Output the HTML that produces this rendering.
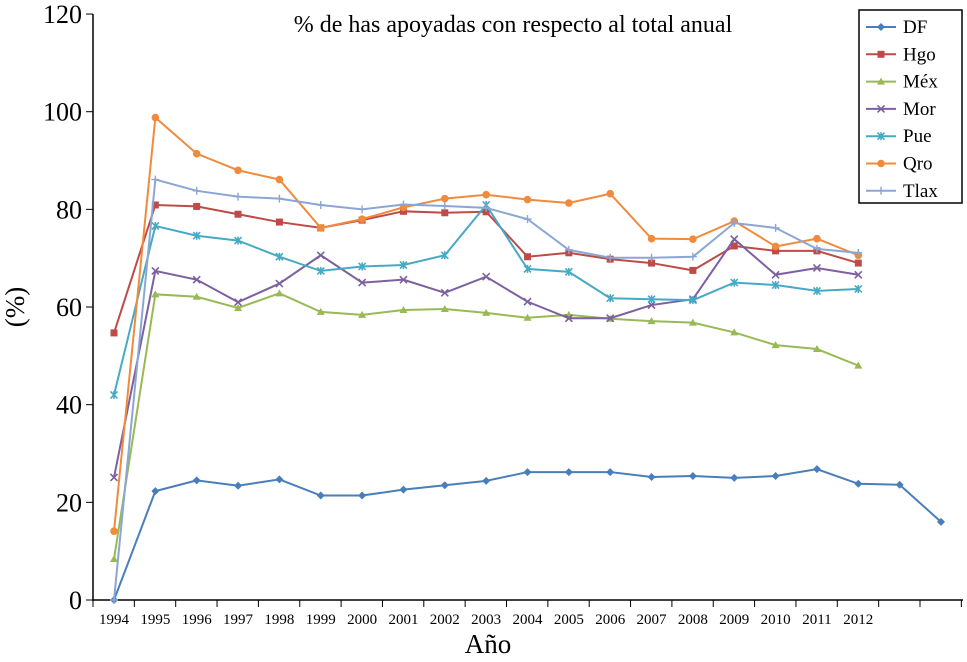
<!DOCTYPE html>
<html><head><meta charset="utf-8"><style>
body{margin:0;background:#fff}
svg text{font-family:"Liberation Serif",serif;fill:#000}
</style></head><body>
<svg width="967" height="657" id="c">
<text x="513" y="32" text-anchor="middle" font-size="24">% de has apoyadas con respecto al total anual</text>
<text x="488" y="653" text-anchor="middle" font-size="27">Año</text>
<text transform="translate(24,307) rotate(-90)" text-anchor="middle" font-size="27">(%)</text>
<g id="axes"></g><g id="series"></g><g id="legend"></g>
</svg>
<script>
const years=["1994","1995","1996","1997","1998","1999","2000","2001","2002","2003","2004","2005","2006","2007","2008","2009","2010","2011","2012"];
const yTicks=[0,20,40,60,80,100,120];
const seriesNames=["DF","Hgo","Méx","Mor","Pue","Qro","Tlax"];
const DF=[0,22.3,24.5,23.4,24.7,21.4,21.4,22.6,23.5,24.4,26.2,26.2,26.2,25.2,25.4,25,25.4,26.8,23.8,23.6,16];
const Hgo=[54.7,80.9,80.6,79,77.4,76.2,77.8,79.6,79.3,79.5,70.3,71.1,69.8,69,67.5,72.5,71.5,71.5,69];
const Mex=[8.4,62.6,62.1,59.8,62.8,59,58.4,59.4,59.6,58.8,57.8,58.4,57.6,57.1,56.8,54.8,52.2,51.4,48];
const Mor=[25.1,67.4,65.6,61,64.8,70.6,65,65.6,62.9,66.2,61.1,57.7,57.7,60.4,61.6,73.9,66.6,68,66.6];
const Pue=[42,76.6,74.6,73.6,70.3,67.4,68.3,68.6,70.6,80.9,67.8,67.2,61.8,61.6,61.4,65,64.5,63.3,63.7];
const Qro=[14.1,98.8,91.4,88,86.1,76.2,78,80.4,82.2,83,82,81.3,83.2,74,73.9,77.6,72.4,74,70.6];
const Tlax=[0,86.1,83.8,82.6,82.2,80.9,80,81,80.7,80.3,78,71.7,70.1,70.1,70.3,77.2,76.2,71.9,71.1];
const allSeries=[DF,Hgo,Mex,Mor,Pue,Qro,Tlax];
const colors=["#4a7ebb","#be4b48","#98b954","#7d60a0","#46aac5","#f08a3c","#8ba6d4"];
const markers=["diamond","square","triangle","x","star","circle","plus"];
const NS="http://www.w3.org/2000/svg";
const X0=114,DX=41.35,Y0=600,DY=4.883;
const xs=i=>X0+i*DX, ys=v=>Y0-v*DY;
function mk(t,a,p){const e=document.createElementNS(NS,t);for(const k in a)e.setAttribute(k,a[k]);p.appendChild(e);return e;}
const ax=document.getElementById('axes');
const yl=mk('line',{x1:93,y1:14,x2:93,y2:601,stroke:'#000','stroke-width':1.5},ax);

const xl=mk('line',{x1:93,y1:600,x2:963,y2:600,stroke:'#000','stroke-width':1.5},ax);

yTicks.forEach(v=>{mk('line',{x1:86,x2:93,y1:ys(v),y2:ys(v),stroke:'#000'},ax);
const t=mk('text',{x:82,y:ys(v)+9,'text-anchor':'end','font-size':26},ax);t.textContent=v;
});
for(let i=0;i<=21;i++){const x=93+i*DX;mk('line',{x1:x,x2:x,y1:600,y2:607,stroke:'#000'},ax);}
years.forEach((y,i)=>{const t=mk('text',{x:xs(i),y:624,'text-anchor':'middle','font-size':15},ax);t.textContent=y;
});
function marker(g,type,x,y,c){
 if(type=='diamond')mk('polygon',{points:`${x},${y-4} ${x+4},${y} ${x},${y+4} ${x-4},${y}`,fill:c},g);
 else if(type=='square')mk('rect',{x:x-3.5,y:y-3.5,width:7,height:7,fill:c},g);
 else if(type=='triangle')mk('polygon',{points:`${x},${y-4} ${x+4},${y+3} ${x-4},${y+3}`,fill:c},g);
 else if(type=='circle')mk('circle',{cx:x,cy:y,r:3.8,fill:c},g);
 else if(type=='x'){mk('path',{d:`M${x-3.5} ${y-3.5}L${x+3.5} ${y+3.5}M${x-3.5} ${y+3.5}L${x+3.5} ${y-3.5}`,stroke:c,'stroke-width':1.6},g);}
 else if(type=='star'){mk('path',{d:`M${x-3.5} ${y-3.5}L${x+3.5} ${y+3.5}M${x-3.5} ${y+3.5}L${x+3.5} ${y-3.5}M${x} ${y-4}V${y+4}`,stroke:c,'stroke-width':1.6},g);}
 else {mk('path',{d:`M${x-4} ${y}H${x+4}M${x} ${y-4}V${y+4}`,stroke:c,'stroke-width':1.4},g);}
}
const sg=document.getElementById('series');
allSeries.forEach((d,s)=>{const g=mk('g',{},sg);


mk('polyline',{points:d.map((v,i)=>xs(i)+','+ys(v)).join(' '),fill:'none',stroke:colors[s],'stroke-width':2},g);
d.forEach((v,i)=>marker(g,markers[s],xs(i),ys(v),colors[s]));});
const lg=document.getElementById('legend');

mk('rect',{x:859,y:10,width:103,height:193,fill:'#fff',stroke:'#000','stroke-width':1.5},lg);
seriesNames.forEach((n,s)=>{const y=27+s*27.3;const g=mk('g',{},lg);

mk('line',{x1:866,x2:896,y1:y,y2:y,stroke:colors[s],'stroke-width':2},g);marker(g,markers[s],881,y,colors[s]);
const t=mk('text',{x:903,y:y+6,'font-size':19},g);t.textContent=n;});
</script>
</body></html>
